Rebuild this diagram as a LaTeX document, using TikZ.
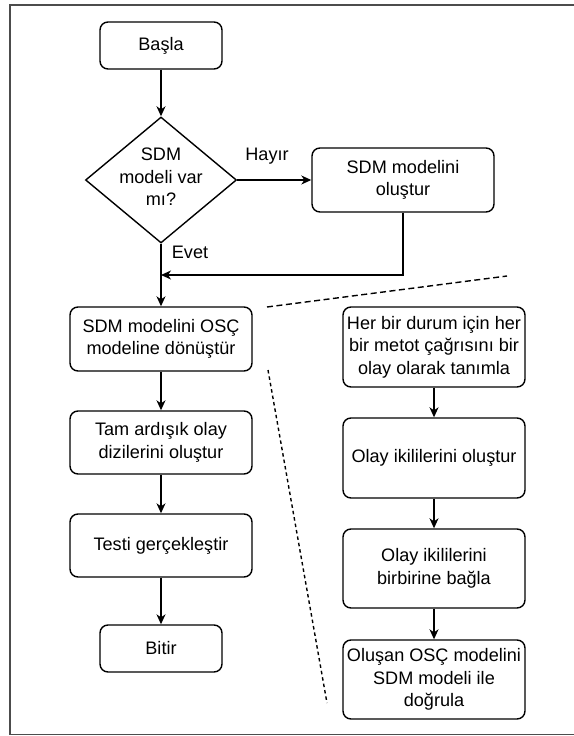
\documentclass[tikz,border=0pt]{standalone}
\usepackage{fontspec}
\setmainfont{Liberation Sans}
\usetikzlibrary{shapes.geometric,arrows.meta}
\begin{document}
\begin{tikzpicture}[x=1pt,y=-1pt,
  font=\fontsize{18.1}{22.5}\selectfont,
  box/.style={draw, line width=1.4pt, rounded corners=8pt, align=center, inner sep=0pt, minimum width=182pt},
  smallbox/.style={box, minimum width=122pt, minimum height=47pt},
  arr/.style={line width=1.4pt, -{Stealth[length=10pt,width=9pt,inset=3pt]}},
  lbl/.style={inner sep=0pt},
  dashA/.style={line width=1.4pt, dash pattern=on 6pt off 3.5pt},
  dashB/.style={line width=1.4pt, dash pattern=on 3.5pt off 3pt}]
\useasboundingbox (0,0) rectangle (573,736);
% frame
\draw[line width=1.5pt, black!70] (580,5) -- (10,5) -- (10,734.5) -- (580,734.5);
% left column
\node[smallbox] (basla) at (161,45.5) {Başla};
\node[draw, line width=1.4pt, diamond, inner sep=0pt, minimum width=151pt, minimum height=126pt] (dec) at (161,180) {};
\node[lbl, align=center] (dectext) at (161,177) {SDM\\modeli var\\mı?};
\node[box, minimum height=64pt] (olustur) at (403,180) {SDM modelini\\oluştur};
\node[box, minimum height=64pt] (osc) at (161,339) {SDM modelini OSÇ\\modeline dönüştür};
\node[box, minimum height=63pt] (tam) at (161,442.5) {Tam ardışık olay\\dizilerini oluştur};
\node[box, minimum height=63pt] (testi) at (161,545.5) {Testi gerçekleştir};
\node[smallbox] (bitir) at (161,648.5) {Bitir};
% right column
\node[box, minimum height=80pt] (her) at (434,347) {Her bir durum için her\\bir metot çağrısını bir\\olay olarak tanımla};
\node[box, minimum height=80pt] (olay1) at (434,458) {Olay ikililerini oluştur};
\node[box, minimum height=79pt] (olay2) at (434,568.5) {Olay ikililerini\\birbirine bağla};
\node[box, minimum height=79pt] (olusan) at (434,679.5) {Oluşan OSÇ modelini\\SDM modeli ile\\doğrula};
% labels
\node[lbl] (hayir) at (267,156) {Hayır};
\node[lbl] (evet) at (190,252) {Evet};
% connectors
\coordinate (join) at (161,275);
\draw[arr] (basla) -- (dec);
\draw[arr] (dec.east) -- (olustur.west);
\draw[arr] (dec.south) -- (osc.north);
\draw[arr] (olustur.south) |- (join);
\draw[arr] (osc) -- (tam);
\draw[arr] (tam) -- (testi);
\draw[arr] (testi) -- (bitir);
\draw[arr] (her) -- (olay1);
\draw[arr] (olay1) -- (olay2);
\draw[arr] (olay2) -- (olusan);
% dashed separators
\coordinate (d1a) at (267,307);
\coordinate (d1b) at (507,276);
\coordinate (d2a) at (268,370);
\coordinate (d2b) at (327,703);
\draw[dashA] (d1a) -- (d1b);
\draw[dashB] (d2a) -- (d2b);
\end{tikzpicture}
\end{document}
